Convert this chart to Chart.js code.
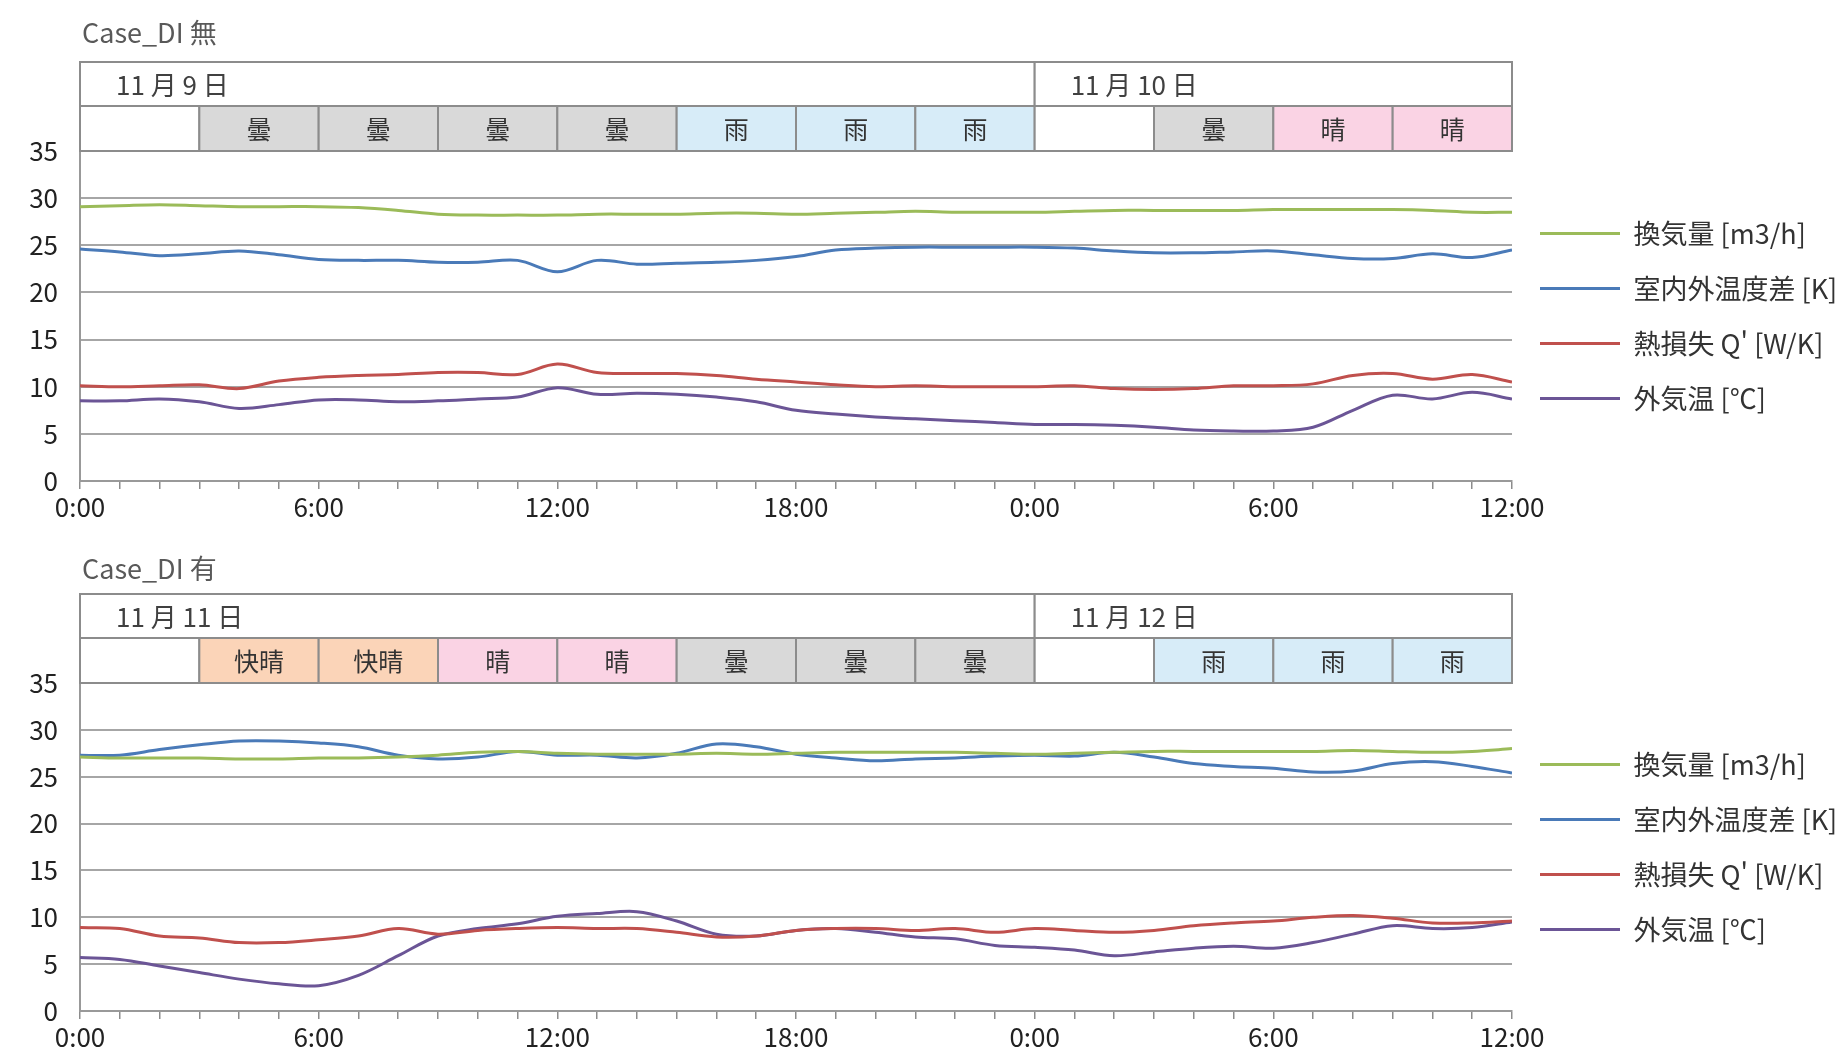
<!DOCTYPE html>
<html lang="ja">
<head>
<meta charset="utf-8">
<title>Case_DI</title>
<script src="https://cdn.jsdelivr.net/npm/chart.js@4.4.1/dist/chart.umd.min.js"></script>
<style>
  html, body { margin: 0; padding: 0; background: #fff; }
  canvas { position: absolute; left: 0; }
  #chartA { top: 0; }
  #chartB { top: 532px; }
</style>
</head>
<body>
<canvas id="chartA" width="1847" height="532"></canvas>
<canvas id="chartB" width="1847" height="523"></canvas>
<script>
// ---- data ----
const hours = [0, 1, 2, 3, 4, 5, 6, 7, 8, 9, 10, 11, 12, 13, 14, 15, 16, 17, 18,
  19, 20, 21, 22, 23, 24, 25, 26, 27, 28, 29, 30, 31, 32, 33, 34, 35, 36];
const tickLabels = ['0:00', '6:00', '12:00', '18:00', '0:00', '6:00', '12:00'];
const seriesNames = ['換気量 [m3/h]', '室内外温度差 [K]', "熱損失 Q' [W/K]", '外気温 [℃]'];
const dayBounds = [0, 24, 36];

// Case_DI 無 (11/9 - 11/10)
const daysA = ['11 月 9 日', '11 月 10 日'];
const weatherA = ['', '曇', '曇', '曇', '曇', '雨', '雨', '雨', '', '曇', '晴', '晴'];
const ventA = [29.1, 29.2, 29.3, 29.2, 29.1, 29.1, 29.1, 29.0, 28.7, 28.3, 28.2, 28.2, 28.2,
  28.3, 28.3, 28.3, 28.4, 28.4, 28.3, 28.4, 28.5, 28.6, 28.5, 28.5, 28.5,
  28.6, 28.7, 28.7, 28.7, 28.7, 28.8, 28.8, 28.8, 28.8, 28.7, 28.5, 28.5];
const diffA = [24.6, 24.3, 23.9, 24.1, 24.4, 24.0, 23.5, 23.4, 23.4, 23.2, 23.2, 23.4, 22.2,
  23.4, 23.0, 23.1, 23.2, 23.4, 23.8, 24.5, 24.7, 24.8, 24.8, 24.8, 24.8,
  24.7, 24.4, 24.2, 24.2, 24.3, 24.4, 24.0, 23.6, 23.6, 24.1, 23.7, 24.5];
const lossA = [10.1, 10.0, 10.1, 10.2, 9.8, 10.6, 11.0, 11.2, 11.3, 11.5, 11.5, 11.3, 12.4,
  11.5, 11.4, 11.4, 11.2, 10.8, 10.5, 10.2, 10.0, 10.1, 10.0, 10.0, 10.0,
  10.1, 9.8, 9.7, 9.8, 10.1, 10.1, 10.3, 11.2, 11.4, 10.8, 11.3, 10.5];
const outA = [8.5, 8.5, 8.7, 8.4, 7.7, 8.1, 8.6, 8.6, 8.4, 8.5, 8.7, 8.9, 9.9,
  9.2, 9.3, 9.2, 8.9, 8.4, 7.5, 7.1, 6.8, 6.6, 6.4, 6.2, 6.0,
  6.0, 5.9, 5.7, 5.4, 5.3, 5.3, 5.7, 7.5, 9.1, 8.7, 9.4, 8.7];

// Case_DI 有 (11/11 - 11/12)
const daysB = ['11 月 11 日', '11 月 12 日'];
const weatherB = ['', '快晴', '快晴', '晴', '晴', '曇', '曇', '曇', '', '雨', '雨', '雨'];
const ventB = [27.1, 27.0, 27.0, 27.0, 26.9, 26.9, 27.0, 27.0, 27.1, 27.3, 27.6, 27.7, 27.5,
  27.4, 27.4, 27.4, 27.5, 27.4, 27.5, 27.6, 27.6, 27.6, 27.6, 27.5, 27.4,
  27.5, 27.6, 27.7, 27.7, 27.7, 27.7, 27.7, 27.8, 27.7, 27.6, 27.7, 28.0];
const diffB = [27.3, 27.3, 27.9, 28.4, 28.8, 28.8, 28.6, 28.2, 27.3, 26.9, 27.1, 27.7, 27.3,
  27.3, 27.0, 27.5, 28.5, 28.2, 27.4, 27.0, 26.7, 26.9, 27.0, 27.2, 27.3,
  27.2, 27.6, 27.1, 26.4, 26.1, 25.9, 25.5, 25.6, 26.4, 26.6, 26.1, 25.4];
const lossB = [8.9, 8.8, 8.0, 7.8, 7.3, 7.3, 7.6, 8.0, 8.8, 8.2, 8.6, 8.8, 8.9,
  8.8, 8.8, 8.4, 7.9, 8.0, 8.6, 8.8, 8.8, 8.6, 8.8, 8.4, 8.8,
  8.6, 8.4, 8.6, 9.1, 9.4, 9.6, 10.0, 10.2, 9.9, 9.4, 9.4, 9.6];
const outB = [5.7, 5.5, 4.8, 4.1, 3.4, 2.9, 2.7, 3.8, 5.9, 8.0, 8.8, 9.3, 10.1,
  10.4, 10.6, 9.6, 8.2, 8.0, 8.6, 8.8, 8.4, 7.9, 7.7, 7.0, 6.8,
  6.5, 5.9, 6.3, 6.7, 6.9, 6.7, 7.3, 8.2, 9.1, 8.8, 8.9, 9.5];

// ---- styles ----
const seriesColors = ['#9bbb59', '#4a7ab8', '#c0504d', '#6b5596'];
const weatherColors = { '': '#ffffff', '曇': '#d9d9d9', '雨': '#d7ecf8', '晴': '#fad3e4', '快晴': '#fbd4b8' };
const FONT = "'Noto Sans CJK JP', 'Noto Sans', sans-serif";

Chart.defaults.font.family = FONT;
Chart.defaults.color = '#333';

// Fixed legend width so the plot area ends where the reference does
const legendWidth = {
  id: 'legendWidth',
  beforeInit(chart) {
    const originalFit = chart.legend.fit;
    chart.legend.fit = function fit() {
      originalFit.bind(chart.legend)();
      this.width = 335;
    };
  },
};

// Title, date row and weather row above the plot area
const header = {
  id: 'header',
  afterDraw(chart, args, opts) {
    const { ctx, chartArea: { top }, scales: { x } } = chart;
    const dateTop = top - 89;
    const midY = top - 45;

    ctx.save();
    ctx.textBaseline = 'middle';

    ctx.fillStyle = '#595959';
    ctx.font = `27px ${FONT}`;
    ctx.textAlign = 'left';
    ctx.fillText(opts.title, 82, opts.titleY);

    ctx.lineWidth = 2;
    ctx.strokeStyle = '#8c8c8c';

    // date row
    opts.days.forEach((day, i) => {
      const x0 = x.getPixelForValue(dayBounds[i]);
      const x1 = x.getPixelForValue(dayBounds[i + 1]);
      ctx.fillStyle = '#fff';
      ctx.fillRect(x0, dateTop, x1 - x0, midY - dateTop);
      ctx.strokeRect(x0, dateTop, x1 - x0, midY - dateTop);
      ctx.fillStyle = '#404040';
      ctx.font = `26px ${FONT}`;
      ctx.fillText(day, x0 + 36, (dateTop + midY) / 2 + 1);
    });

    // weather row, one cell per 3 hours
    ctx.textAlign = 'center';
    opts.weather.forEach((w, i) => {
      const x0 = x.getPixelForValue(i * 3);
      const x1 = x.getPixelForValue(i * 3 + 3);
      ctx.fillStyle = weatherColors[w];
      ctx.fillRect(x0, midY, x1 - x0, top - midY);
      ctx.strokeRect(x0, midY, x1 - x0, top - midY);
      if (w) {
        ctx.fillStyle = '#333';
        ctx.font = `25px ${FONT}`;
        ctx.fillText(w, (x0 + x1) / 2, (midY + top) / 2 + 1);
      }
    });
    ctx.restore();
  },
};

function buildConfig(title, titleY, days, weather, series, bottom) {
  return {
    type: 'line',
    data: {
      labels: hours,
      datasets: series.map((values, i) => ({
        label: seriesNames[i],
        data: values,
        borderColor: seriesColors[i],
        backgroundColor: seriesColors[i],
        borderWidth: 3,
        pointRadius: 0,
        tension: 0.35,
      })),
    },
    plugins: [legendWidth, header],
    options: {
      responsive: false,
      animation: false,
      layout: { padding: { top: 151, left: 0, right: 0, bottom: 0 } },
      plugins: {
        legend: {
          position: 'right',
          fullSize: false,
          labels: {
            usePointStyle: true,
            pointStyle: 'line',
            pointStyleWidth: 80,
            padding: 28,
            color: '#333',
            font: { size: 27 },
          },
        },
        tooltip: { enabled: false },
        header: { title, titleY, days, weather },
      },
      scales: {
        x: {
          type: 'linear',
          min: 0,
          max: 36,
          afterFit(scale) {
            scale.height = scale.chart.height - bottom;
          },
          ticks: {
            stepSize: 1,
            autoSkip: false,
            maxRotation: 0,
            padding: 3,
            color: '#222',
            font: { size: 26 },
            // label only every 6 hours, small tick marks every hour
            callback: (value) => (value % 6 === 0 ? tickLabels[value / 6] : ''),
          },
          grid: { drawOnChartArea: false, tickLength: 8, color: '#8c8c8c', lineWidth: 1.5 },
          border: { color: '#999', width: 2 },
        },
        y: {
          min: 0,
          max: 35,
          afterFit(scale) {
            scale.width = 80;
          },
          ticks: { stepSize: 5, padding: 22, color: '#222', font: { size: 26 } },
          grid: { color: '#a6a6a6', lineWidth: 2, drawTicks: false },
          border: { display: true, color: '#999', width: 2 },
        },
      },
    },
  };
}

new Chart(document.getElementById('chartA'),
  buildConfig('Case_DI 無', 33, daysA, weatherA, [ventA, diffA, lossA, outA], 481));
new Chart(document.getElementById('chartB'),
  buildConfig('Case_DI 有', 37, daysB, weatherB, [ventB, diffB, lossB, outB], 479));
</script>
</body>
</html>
